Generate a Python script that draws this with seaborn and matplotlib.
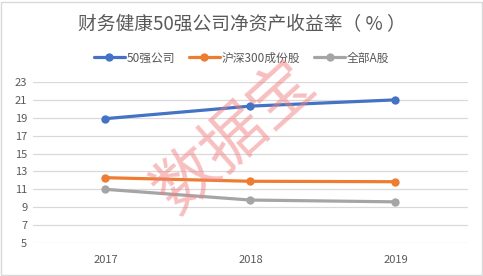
import matplotlib
matplotlib.use("Agg")
import matplotlib.pyplot as plt
import seaborn as sns
import pandas as pd
from matplotlib.patches import Rectangle

years = ["2017", "2018", "2019"]
series_names = ["50强公司", "沪深300成份股", "全部A股"]
top50 = [18.9, 20.3, 21.0]
hs300 = [12.3, 11.9, 11.85]
all_a = [11.0, 9.8, 9.6]
yticks = [5, 7, 9, 11, 13, 15, 17, 19, 21, 23]
title = "财务健康50强公司净资产收益率（ % ）"
colors = ["#4472C4", "#ED7D31", "#A5A5A5"]

sns.set_theme(style="white")
plt.rcParams['font.family'] = ['Noto Sans CJK SC', 'DejaVu Sans']

df = pd.DataFrame({
    "year": years * 3,
    "value": top50 + hs300 + all_a,
    "series": [series_names[0]] * 3 + [series_names[1]] * 3 + [series_names[2]] * 3,
})

fig = plt.figure(figsize=(4.83, 2.76), dpi=100)
ax = fig.add_axes([0.068, 0.1196, 0.901, 0.5834])
sns.lineplot(data=df, x="year", y="value", hue="series", palette=colors,
             marker="o", markersize=6, markeredgewidth=0, linewidth=2.3,
             ax=ax, sort=False)

ax.set_ylim(5, 23)
ax.set_xlim(-0.5, 2.5)
ax.set_yticks(yticks)
ax.set_yticklabels([str(v) for v in yticks])
ax.set_xlabel("")
ax.set_ylabel("")
for s in ax.spines.values():
    s.set_visible(False)
ax.grid(axis="y", color="#D9D9D9", linewidth=0.9)
ax.set_axisbelow(True)
ax.tick_params(axis="both", length=0, labelsize=8, colors="#595959", pad=4)
ax.tick_params(axis="x", pad=9)

leg = ax.legend(loc="center", bbox_to_anchor=(0.5, 0.79), bbox_transform=fig.transFigure,
                ncol=3, frameon=False, fontsize=8.5, handlelength=2.6,
                columnspacing=1.2, handletextpad=0.15)
for t in leg.get_texts():
    t.set_color("#595959")

fig.text(0.5, 0.91, title, ha="center", va="center", fontsize=13.5, color="#595959")

fig.text(0.487, 0.50, "数据宝", ha="center", va="center", fontsize=46, color="#F08080",
         alpha=0.5, rotation=42)

fig.patches.append(Rectangle((0.002, 0.004), 0.995, 0.99, transform=fig.transFigure,
                             fill=False, edgecolor="#D9D9D9", linewidth=1))

fig.savefig("out.png", dpi=100, facecolor="white")
